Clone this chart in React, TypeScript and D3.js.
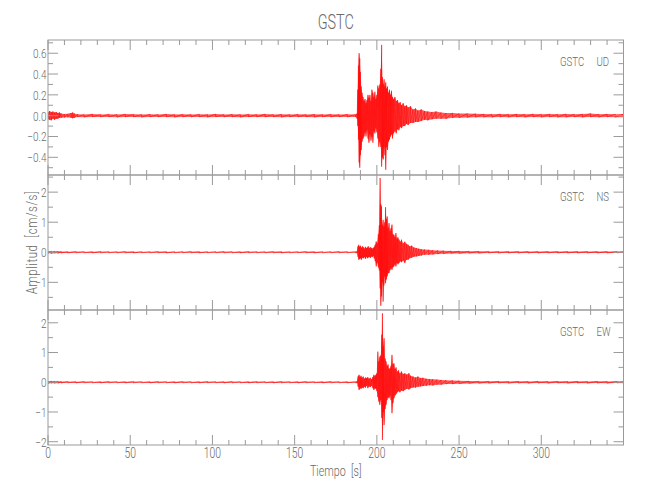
import React from 'react';
import * as d3 from 'd3';

type Sample = [number, number, number]; // time [s], max, min

const station = 'GSTC';
const components = ['UD', 'NS', 'EW'];
const xTickValues = [0, 50, 100, 150, 200, 250, 300];
const timeDomain = [0, 350];
const yDomainUD = [-0.57, 0.727];
const yDomainNS = [-1.92, 2.57];
const yDomainEW = [-2.11, 2.43];
const yTicksUD = [-0.4, -0.2, 0, 0.2, 0.4, 0.6];
const yTicksNS = [-1, 0, 1, 2];
const yTicksEW = [-2, -1, 0, 1, 2];
const yTickLabelsUD = ['\u22120.4', '\u22120.2', '0.0', '0.2', '0.4', '0.6'];
const yTickLabelsNS = ['\u22121', '0', '1', '2'];
const yTickLabelsEW = ['\u22122', '\u22121', '0', '1', '2'];
const yMinorStep = [0.1, 0.5, 0.5];

// envelope samples read from the record: [t, max, min]
const udEnvelope: Sample[] = [
  [0, 0.03, -0.035], [1, 0.045, -0.04], [2, 0.035, -0.045], [3, 0.04, -0.03], [4, 0.03, -0.04],
  [5, 0.035, -0.03], [6, 0.025, -0.03], [7, 0.03, -0.02], [8, 0.02, -0.02], [10, 0.015, -0.018],
  [12, 0.018, -0.015], [14, 0.025, -0.02], [15, 0.03, -0.025], [16, 0.02, -0.02], [18, 0.014, -0.012],
  [22, 0.012, -0.014], [27, 0.015, -0.012], [32, 0.012, -0.013], [37, 0.014, -0.012], [42, 0.012, -0.015],
  [47, 0.015, -0.012], [52, 0.013, -0.012], [57, 0.012, -0.014], [62, 0.014, -0.012], [67, 0.012, -0.013],
  [72, 0.015, -0.012], [77, 0.012, -0.014], [82, 0.013, -0.012], [87, 0.012, -0.013], [92, 0.014, -0.012],
  [97, 0.012, -0.014], [102, 0.015, -0.012], [107, 0.012, -0.013], [112, 0.013, -0.012], [117, 0.012, -0.014],
  [122, 0.014, -0.012], [127, 0.012, -0.013], [132, 0.015, -0.013], [137, 0.012, -0.012], [142, 0.013, -0.014],
  [147, 0.012, -0.012], [152, 0.014, -0.013], [157, 0.012, -0.012], [162, 0.013, -0.014], [167, 0.012, -0.012],
  [172, 0.014, -0.013], [177, 0.012, -0.012], [182, 0.013, -0.013], [187, 0.012, -0.012],
  [188.0, 0.02, -0.03], [188.4, 0.25, -0.1], [188.8, 0.48, -0.23], [189.2, 0.6, -0.45], [189.6, 0.55, -0.5],
  [190.0, 0.42, -0.38], [190.5, 0.28, -0.33], [191.0, 0.22, -0.25], [191.6, 0.18, -0.22], [192.2, 0.14, -0.2],
  [192.8, 0.16, -0.16], [193.4, 0.12, -0.2], [194.0, 0.15, -0.14], [194.6, 0.2, -0.22], [195.2, 0.17, -0.26],
  [195.8, 0.2, -0.18], [196.4, 0.14, -0.24], [197.0, 0.25, -0.2], [197.6, 0.22, -0.26], [198.2, 0.18, -0.15],
  [198.8, 0.23, -0.17], [199.4, 0.16, -0.12], [200.0, 0.2, -0.16], [200.6, 0.29, -0.22], [201.2, 0.26, -0.3],
  [201.8, 0.3, -0.25], [202.4, 0.45, -0.3], [202.9, 0.68, -0.49], [203.4, 0.37, -0.4], [203.9, 0.3, -0.42],
  [204.4, 0.35, -0.3], [204.9, 0.28, -0.38], [205.4, 0.32, -0.52], [205.9, 0.26, -0.3], [206.5, 0.28, -0.33],
  [207.1, 0.22, -0.25], [207.7, 0.25, -0.23], [208.3, 0.2, -0.2], [208.9, 0.24, -0.18], [209.5, 0.18, -0.22],
  [210.2, 0.16, -0.17], [211.0, 0.18, -0.15], [211.8, 0.14, -0.17], [212.6, 0.15, -0.13], [213.4, 0.12, -0.14],
  [214.2, 0.13, -0.11], [215.0, 0.1, -0.12], [216.0, 0.12, -0.1], [217.0, 0.09, -0.1], [218.0, 0.1, -0.08],
  [219.0, 0.08, -0.09], [220.5, 0.09, -0.07], [222.0, 0.06, -0.07], [223.5, 0.07, -0.06], [225.0, 0.05, -0.06],
  [227.0, 0.06, -0.05], [229.0, 0.045, -0.04], [231.0, 0.04, -0.045], [233.5, 0.035, -0.035], [236.0, 0.04, -0.03],
  [239.0, 0.03, -0.03], [242.0, 0.025, -0.03], [246.0, 0.025, -0.02], [250.0, 0.02, -0.02], [255, 0.02, -0.018],
  [260, 0.018, -0.015], [265, 0.015, -0.014], [270, 0.014, -0.015], [275, 0.016, -0.013], [280, 0.014, -0.014],
  [285, 0.015, -0.013], [290, 0.013, -0.015], [295, 0.016, -0.013], [300, 0.014, -0.014], [305, 0.015, -0.013],
  [310, 0.013, -0.015], [315, 0.016, -0.014], [320, 0.014, -0.013], [325, 0.015, -0.015], [330, 0.02, -0.013],
  [335, 0.014, -0.014], [340, 0.015, -0.013], [345, 0.014, -0.015], [350, 0.015, -0.014],
];

const nsEnvelope: Sample[] = [
  [0, 0.04, -0.03], [2, 0.03, -0.04], [4, 0.035, -0.03], [6, 0.03, -0.035], [8, 0.025, -0.025],
  [12, 0.02, -0.022], [17, 0.022, -0.02], [22, 0.02, -0.02], [27, 0.018, -0.022], [32, 0.022, -0.02],
  [37, 0.02, -0.018], [42, 0.018, -0.02], [47, 0.022, -0.02], [52, 0.02, -0.022], [57, 0.02, -0.018],
  [62, 0.018, -0.02], [67, 0.022, -0.02], [72, 0.02, -0.022], [77, 0.018, -0.02], [82, 0.02, -0.018],
  [87, 0.022, -0.02], [92, 0.02, -0.022], [97, 0.018, -0.02], [102, 0.02, -0.018], [107, 0.022, -0.02],
  [112, 0.02, -0.02], [117, 0.018, -0.022], [122, 0.022, -0.02], [127, 0.02, -0.018], [132, 0.018, -0.02],
  [137, 0.022, -0.02], [142, 0.02, -0.022], [147, 0.018, -0.02], [152, 0.02, -0.018], [157, 0.022, -0.02],
  [162, 0.02, -0.022], [167, 0.018, -0.02], [172, 0.02, -0.018], [177, 0.022, -0.02], [182, 0.02, -0.02],
  [187, 0.02, -0.02],
  [188.0, 0.03, -0.03], [188.5, 0.2, -0.15], [189.0, 0.25, -0.25], [189.5, 0.18, -0.22], [190.0, 0.22, -0.2],
  [190.6, 0.15, -0.25], [191.2, 0.2, -0.18], [191.8, 0.17, -0.2], [192.4, 0.12, -0.16], [193.0, 0.18, -0.22],
  [193.6, 0.14, -0.15], [194.2, 0.16, -0.2], [194.8, 0.2, -0.17], [195.4, 0.13, -0.15], [196.0, 0.17, -0.19],
  [196.6, 0.15, -0.14], [197.2, 0.12, -0.16], [197.8, 0.14, -0.12], [198.4, 0.18, -0.2], [199.0, 0.25, -0.3],
  [199.6, 0.36, -0.47], [200.2, 0.3, -0.35], [200.9, 0.6, -0.5], [201.5, 0.9, -0.6], [202.0, 2.47, -1.2],
  [202.4, 1.6, -1.78], [202.8, 1.53, -1.47], [203.3, 0.9, -1.0], [203.8, 1.08, -1.64], [204.3, 0.85, -1.1],
  [204.8, 1.0, -0.8], [205.3, 1.5, -1.03], [205.8, 1.1, -0.9], [206.3, 1.19, -0.8], [206.8, 0.8, -0.7],
  [207.4, 0.97, -0.69], [208.0, 0.7, -0.6], [208.6, 0.8, -0.53], [209.2, 0.92, -0.58], [209.8, 0.6, -0.5],
  [210.4, 0.58, -0.47], [211.0, 0.5, -0.4], [211.6, 0.64, -0.47], [212.2, 0.45, -0.35], [212.8, 0.5, -0.4],
  [213.5, 0.42, -0.36], [214.2, 0.35, -0.3], [215.0, 0.42, -0.33], [216.0, 0.3, -0.28], [217.0, 0.35, -0.36],
  [218.0, 0.28, -0.25], [219.0, 0.25, -0.25], [220.0, 0.2, -0.2], [221.2, 0.22, -0.18], [222.5, 0.16, -0.15],
  [224.0, 0.14, -0.14], [225.5, 0.12, -0.12], [227.0, 0.1, -0.11], [229.0, 0.09, -0.08], [231.5, 0.08, -0.08],
  [234.0, 0.07, -0.07], [237.0, 0.06, -0.06], [240.5, 0.05, -0.05], [245, 0.045, -0.04], [250, 0.04, -0.04],
  [256, 0.035, -0.03], [262, 0.03, -0.03], [268, 0.028, -0.025], [274, 0.025, -0.028], [280, 0.027, -0.025],
  [286, 0.025, -0.026], [292, 0.026, -0.025], [298, 0.024, -0.026], [304, 0.026, -0.024], [310, 0.025, -0.025],
  [316, 0.024, -0.026], [322, 0.026, -0.024], [328, 0.025, -0.025], [334, 0.024, -0.026], [340, 0.026, -0.024],
  [346, 0.025, -0.025], [350, 0.024, -0.025],
];

const ewEnvelope: Sample[] = [
  [0, 0.03, -0.04], [2, 0.04, -0.03], [4, 0.03, -0.035], [6, 0.035, -0.03], [8, 0.025, -0.025],
  [12, 0.022, -0.02], [17, 0.02, -0.022], [22, 0.022, -0.02], [27, 0.02, -0.02], [32, 0.018, -0.022],
  [37, 0.022, -0.02], [42, 0.02, -0.018], [47, 0.018, -0.022], [52, 0.022, -0.02], [57, 0.02, -0.02],
  [62, 0.018, -0.022], [67, 0.022, -0.02], [72, 0.02, -0.018], [77, 0.018, -0.022], [82, 0.022, -0.02],
  [87, 0.02, -0.02], [92, 0.018, -0.022], [97, 0.022, -0.02], [102, 0.02, -0.018], [107, 0.018, -0.022],
  [112, 0.022, -0.02], [117, 0.02, -0.02], [122, 0.018, -0.022], [127, 0.022, -0.02], [132, 0.02, -0.018],
  [137, 0.018, -0.022], [142, 0.022, -0.02], [147, 0.02, -0.02], [152, 0.018, -0.022], [157, 0.022, -0.02],
  [162, 0.02, -0.018], [167, 0.018, -0.022], [172, 0.022, -0.02], [177, 0.02, -0.02], [182, 0.018, -0.022],
  [187, 0.02, -0.02],
  [188.0, 0.03, -0.03], [188.6, 0.2, -0.15], [189.2, 0.25, -0.26], [189.8, 0.18, -0.2], [190.4, 0.22, -0.22],
  [191.0, 0.15, -0.18], [191.7, 0.19, -0.2], [192.4, 0.12, -0.15], [193.1, 0.16, -0.18], [193.8, 0.14, -0.12],
  [194.5, 0.17, -0.2], [195.2, 0.12, -0.14], [196.0, 0.15, -0.16], [196.8, 0.1, -0.12], [197.6, 0.18, -0.2],
  [198.2, 0.25, -0.26], [198.8, 0.2, -0.2], [199.4, 0.25, -0.22], [200.0, 0.3, -0.3], [200.6, 1.03, -0.5],
  [201.2, 0.7, -0.65], [201.8, 0.86, -0.76], [202.4, 0.9, -0.6], [203.0, 1.6, -1.2], [203.4, 2.32, -1.94],
  [203.9, 1.2, -1.0], [204.4, 1.48, -1.44], [205.0, 0.8, -0.9], [205.6, 0.7, -0.76], [206.2, 0.55, -0.6],
  [206.8, 0.6, -0.5], [207.4, 0.45, -0.54], [208.0, 0.47, -0.45], [208.6, 0.55, -0.6], [209.2, 0.92, -1.04],
  [209.8, 0.6, -0.7], [210.4, 0.64, -0.54], [211.0, 0.45, -0.45], [211.7, 0.5, -0.4], [212.4, 0.36, -0.34],
  [213.2, 0.4, -0.3], [214.0, 0.3, -0.34], [215.0, 0.36, -0.28], [216.0, 0.28, -0.3], [217.0, 0.3, -0.26],
  [218.2, 0.26, -0.22], [219.5, 0.3, -0.24], [220.5, 0.22, -0.2], [222.0, 0.19, -0.18], [223.5, 0.16, -0.18],
  [225.0, 0.19, -0.15], [226.5, 0.14, -0.14], [228, 0.15, -0.13], [230, 0.12, -0.12], [232, 0.11, -0.1],
  [234, 0.1, -0.11], [236.5, 0.09, -0.08], [239, 0.08, -0.08], [242, 0.07, -0.06], [246, 0.06, -0.06],
  [250, 0.05, -0.05], [256, 0.04, -0.04], [262, 0.035, -0.035], [268, 0.03, -0.03], [274, 0.032, -0.028],
  [280, 0.028, -0.03], [286, 0.03, -0.028], [292, 0.028, -0.03], [298, 0.03, -0.028], [304, 0.028, -0.03],
  [310, 0.03, -0.028], [316, 0.028, -0.03], [322, 0.03, -0.028], [328, 0.028, -0.03], [334, 0.03, -0.028],
  [340, 0.028, -0.03], [346, 0.03, -0.028], [350, 0.028, -0.03],
];

const envelopes = [udEnvelope, nsEnvelope, ewEnvelope];
const yDomains = [yDomainUD, yDomainNS, yDomainEW];
const yTicks = [yTicksUD, yTicksNS, yTicksEW];
const yTickLabels = [yTickLabelsUD, yTickLabelsNS, yTickLabelsEW];

const W = 650;
const H = 500;
const left = 48;
const right = 623.5;
const top = 40;
const panelH = 135;
const AX = '#9a9a9a';
const TX = '#6a6a6a';
const FONT = "Roboto, 'Liberation Sans', sans-serif";
const RED = '#ff0000';
const SX = 0.74;

function T(props: { x: number; y: number; size: number; anchor?: string; rotate?: number; dy?: string; spacing?: number; children: React.ReactNode }) {
  const { x, y, size, anchor = 'start', rotate = 0, dy, spacing, children } = props;
  return (
    <text
      transform={`translate(${x},${y}) rotate(${rotate}) scale(${SX},1)`}
      textAnchor={anchor}
      dy={dy}
      fontSize={size}
      fontWeight={300}
      letterSpacing={spacing}
      fill={TX}
      style={{ whiteSpace: 'pre' }}
    >
      {children}
    </text>
  );
}

export default function App() {
  const x = d3.scaleLinear().domain(timeDomain).range([left, right]);
  const xMinor = d3.range(timeDomain[0], timeDomain[1] + 0.001, 10);
  const bottom = top + panelH * 3;

  return (
    <svg width={W} height={H} style={{ position: 'absolute', left: 0, top: 0, background: '#fff' }} fontFamily={FONT}>
      <T x={(left + right) / 2} y={28.5} size={19.5} anchor="middle">{station}</T>
      {envelopes.map((env, i) => {
        const pTop = top + i * panelH;
        const pBot = pTop + panelH;
        const y = d3.scaleLinear().domain(yDomains[i]).range([pBot, pTop]);
        const area = d3.area<Sample>().x(d => x(d[0])).y0(d => y(d[2])).y1(d => y(d[1]));
        const zig: [number, number][] = [];
        env.forEach(d => { zig.push([x(d[0]), y(d[1])]); zig.push([x(d[0]), y(d[2])]); });
        const line = d3.line();
        const dom = yDomains[i];
        const minor = d3.range(Math.ceil(dom[0] / yMinorStep[i]) * yMinorStep[i], dom[1], yMinorStep[i])
          .filter(v => !yTicks[i].some(t => Math.abs(t - v) < 1e-6));
        return (
          <g key={i}>
            <defs>
              <clipPath id={`clip${i}`}>
                <rect x={left} y={pTop} width={right - left} height={panelH} />
              </clipPath>
            </defs>
            <g clipPath={`url(#clip${i})`}>
              <path d={area(env) || ''} fill={RED} fillOpacity={0.65} stroke="none" />
              <path d={line(zig) || ''} fill="none" stroke={RED} strokeWidth={0.6} strokeOpacity={0.9} />
            </g>
            <rect x={left} y={pTop} width={right - left} height={panelH} fill="none" stroke={AX} strokeWidth={1} />
            {xMinor.map(v => {
              const major = v % 50 === 0;
              const len = major ? 10 : 5;
              return (
                <g key={`xt${v}`} stroke={AX}>
                  <line x1={x(v)} x2={x(v)} y1={pTop} y2={pTop + len} />
                  <line x1={x(v)} x2={x(v)} y1={pBot} y2={pBot - len} />
                </g>
              );
            })}
            {yTicks[i].map((v, k) => (
              <g key={`yt${k}`}>
                <line x1={left} x2={left + 10} y1={y(v)} y2={y(v)} stroke={AX} />
                <line x1={right} x2={right - 10} y1={y(v)} y2={y(v)} stroke={AX} />
                <T x={left - 1.5} y={y(v)} dy="0.36em" size={13.5} anchor="end">{yTickLabels[i][k]}</T>
              </g>
            ))}
            {minor.map((v, k) => (
              <g key={`ym${k}`} stroke={AX}>
                <line x1={left} x2={left + 5} y1={y(v)} y2={y(v)} />
                <line x1={right} x2={right - 5} y1={y(v)} y2={y(v)} />
              </g>
            ))}
            <T x={560} y={pTop + 26} size={13}>{station}</T>
            <T x={596.5} y={pTop + 26} size={13}>{components[i]}</T>
          </g>
        );
      })}
      {xTickValues.map(v => (
        <T key={`xl${v}`} x={x(v)} y={458} size={14} anchor="middle">{v}</T>
      ))}
      <T x={(left + right) / 2} y={476} size={14.5} anchor="middle">{'Tiempo  [s]'}</T>
      <T x={37} y={(top + bottom) / 2} size={15.5} spacing={0.8} anchor="middle" rotate={-90}>{'Amplitud  [cm/s/s]'}</T>
    </svg>
  );
}
